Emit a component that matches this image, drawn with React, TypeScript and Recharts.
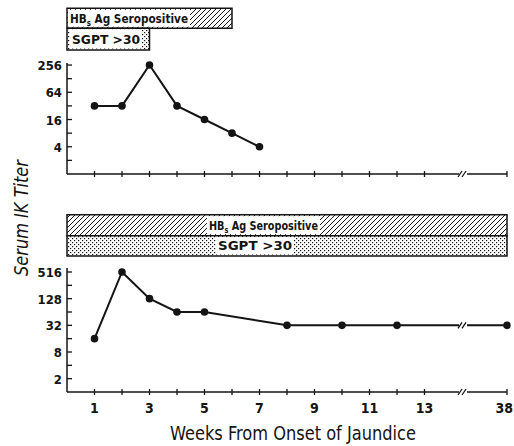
import React from 'react';
import { LineChart, Line, XAxis, YAxis, ReferenceArea, ReferenceDot } from 'recharts';

// ─── Data ─────────────────────────────────────────────────────────────────────
const TOP_WEEKS = [1, 2, 3, 4, 5, 6, 7];
const TOP_TITER = [32, 32, 256, 32, 16, 8, 4];
const BOTTOM_WEEKS = [1, 2, 3, 4, 5, 8, 10, 12, 38];
const BOTTOM_TITER = [16, 512, 128, 64, 64, 32, 32, 32, 32];

const WEEK_TICKS = [1, 2, 3, 4, 5, 6, 7, 8, 9, 10, 11, 12, 13, 38];
const WEEK_LABELS = ['1', '', '3', '', '5', '', '7', '', '9', '', '11', '', '13', '38'];

const TOP_Y_TICKS = [2, 4, 8, 16, 32, 64, 128, 256];
const TOP_Y_LABELS = ['', '4', '', '16', '', '64', '', '256'];
const BOTTOM_Y_TICKS = [2, 4, 8, 16, 32, 64, 128, 256, 512];
const BOTTOM_Y_LABELS = ['2', '', '8', '', '32', '', '128', '', '516'];

// annotation bars: [startWeek, endWeek]
const TOP_HBS = [0, 6];
const TOP_SGPT = [0, 3];
const BOTTOM_HBS = [0, 38];
const BOTTOM_SGPT = [0, 38];

// broken axis: everything after week 13 is squeezed onto one slot
const LAST_WEEK = 13;
const axisPos = (w: number) => (w > LAST_WEEK ? 16 : w);
const BREAK_AT = 14.4;

const FONT = "'DejaVu Sans Condensed', 'DejaVu Sans', sans-serif";
const INK = '#141414';

const topData = TOP_WEEKS.map((w, i) => ({ pos: axisPos(w), titer: TOP_TITER[i] }));
const bottomData = BOTTOM_WEEKS.map((w, i) => ({ pos: axisPos(w), titer: BOTTOM_TITER[i] }));
const xTicks = WEEK_TICKS.map(axisPos);

// ─── Ticks ────────────────────────────────────────────────────────────────────
const XTick = ({ x, y, payload, showLabel }: any) => {
  const idx = xTicks.indexOf(payload.value);
  const label = showLabel ? WEEK_LABELS[idx] : '';
  const last = idx === xTicks.length - 1;
  return (
    <g>
      <line x1={x} x2={x} y1={y - 3} y2={y + 3} stroke={INK} strokeWidth={1.3} />
      {label && (
        <text x={last ? x + 6 : x} y={y + 21} textAnchor={last ? 'end' : 'middle'} fontFamily={FONT}
          fontStretch="condensed" fontWeight="bold" fontSize={14} fill={INK}>
          {label}
        </text>
      )}
    </g>
  );
};

const YTick = ({ x, y, payload, ticks, labels }: any) => {
  const label = labels[ticks.indexOf(payload.value)];
  const axisX = x + 4;
  return (
    <g>
      <line x1={axisX} x2={axisX + 5} y1={y} y2={y} stroke={INK} strokeWidth={1.3} />
      {label && (
        <text x={x - 1} y={y + 5} textAnchor="end" fontFamily={FONT} fontStretch="condensed"
          fontWeight="bold" fontSize={13} fill={INK}>
          {label}
        </text>
      )}
    </g>
  );
};

const BreakMark = ({ cx, cy }: any) => (
  <g>
    <rect x={cx - 4} y={cy - 3} width={8} height={6} fill="#fff" />
    <line x1={cx - 5} y1={cy + 3} x2={cx - 1} y2={cy - 3} stroke={INK} strokeWidth={1.3} />
    <line x1={cx - 1} y1={cy + 3} x2={cx + 3} y2={cy - 3} stroke={INK} strokeWidth={1.3} />
  </g>
);

const BandLabel = ({ viewBox, dx, width, sub }: any) => {
  const { x, y, height } = viewBox;
  const tx = x + dx;
  const ty = y + height / 2 + 4.5;
  return (
    <g>
      <rect x={tx - 2} y={y + 1.5} width={width + 4} height={height - 3} fill="#fff" />
      <text x={tx} y={ty} fontFamily={FONT} fontWeight="bold" fontSize={12} fill={INK}
        textLength={width} lengthAdjust="spacingAndGlyphs">
        {sub ? (
          <>
            HB<tspan baselineShift="-3" fontSize={8}>s</tspan> Ag Seropositive
          </>
        ) : (
          'SGPT >30'
        )}
      </text>
    </g>
  );
};

const Patterns = () => (
  <svg width={0} height={0} style={{ position: 'absolute' }}>
    <defs>
      <pattern id="hatch" width={5} height={5} patternUnits="userSpaceOnUse">
        <path d="M0,5 L5,0 M-1,1 L1,-1 M4,6 L6,4" stroke={INK} strokeWidth={1} />
      </pattern>
      <pattern id="stipple" width={4} height={4} patternUnits="userSpaceOnUse">
        <rect width={4} height={4} fill="#fff" />
        <rect x={0} y={0} width={1.2} height={1.2} fill={INK} />
        <rect x={2} y={2} width={1.2} height={1.2} fill={INK} />
      </pattern>
    </defs>
  </svg>
);

// ─── Panels ───────────────────────────────────────────────────────────────────
function Panel({ data, height, top, bottomAxisH, yDomain, yTicks, yLabels, hbs, sgpt, bands, labels, showX, lineBreakAt }: any) {
  return (
    <LineChart width={514} height={height} data={data} margin={{ top, right: 7, bottom: 0, left: 27 }}>
      <XAxis
        dataKey="pos" type="number" domain={[0, 16]} ticks={xTicks} interval={0} allowDataOverflow
        height={bottomAxisH} tickLine={false} tickSize={0} tickMargin={0}
        axisLine={{ stroke: INK, strokeWidth: 1.5 }}
        tick={(p: any) => <XTick {...p} showLabel={showX} />}
      />
      <YAxis
        dataKey="titer" scale="log" domain={yDomain} ticks={yTicks} interval={0} allowDataOverflow width={40}
        tickLine={false} tickSize={0} tickMargin={4}
        axisLine={{ stroke: INK, strokeWidth: 1.5 }}
        tick={(p: any) => <YTick {...p} ticks={yTicks} labels={yLabels} />}
      />
      <ReferenceArea x1={axisPos(hbs[0])} x2={axisPos(hbs[1])} y1={bands[1]} y2={bands[2]} ifOverflow="visible"
        fill="url(#hatch)" fillOpacity={1} stroke={INK} strokeWidth={1.5}
        label={(p: any) => <BandLabel {...p} dx={labels[0]} width={labels[1]} sub />} />
      <ReferenceArea x1={axisPos(sgpt[0])} x2={axisPos(sgpt[1])} y1={bands[0]} y2={bands[1]} ifOverflow="visible"
        fill="url(#stipple)" fillOpacity={1} stroke={INK} strokeWidth={1.5}
        label={(p: any) => <BandLabel {...p} dx={labels[2]} width={labels[3]} />} />
      <Line dataKey="titer" stroke={INK} strokeWidth={2} isAnimationActive={false}
        dot={{ r: 3.8, fill: INK, stroke: INK, strokeWidth: 0, clipDot: false }} />
      <ReferenceDot x={BREAK_AT} y={yDomain[0]} ifOverflow="visible" shape={BreakMark} />
      {lineBreakAt && <ReferenceDot x={BREAK_AT} y={lineBreakAt} ifOverflow="visible" shape={BreakMark} />}
    </LineChart>
  );
}

export default function App() {
  return (
    <div style={{ position: 'absolute', left: 0, top: 0, width: 514, height: 446, background: '#fff' }}>
      <Patterns />
      <svg width={514} height={446} style={{ position: 'absolute', left: 0, top: 0 }}>
        <text transform="translate(28,218) rotate(-90)" textAnchor="middle" fontFamily={FONT}
          fontStretch="condensed" fontStyle="italic" fontSize={20} fill={INK}
          textLength={116} lengthAdjust="spacingAndGlyphs">
          Serum IK Titer
        </text>
        <text x={293} y={440} textAnchor="middle" fontFamily={FONT} fontStretch="condensed"
          fontSize={19} fill={INK} textLength={246} lengthAdjust="spacingAndGlyphs">
          Weeks From Onset of Jaundice
        </text>
      </svg>
      <div style={{ position: 'absolute', left: 0, top: 0 }}>
        <Panel
          data={topData} height={190} top={63} bottomAxisH={16}
          yDomain={[1, 284]} yTicks={TOP_Y_TICKS} yLabels={TOP_Y_LABELS}
          hbs={TOP_HBS} sgpt={TOP_SGPT}
          bands={[549, 1663, 4600]} labels={[3, 118, 5, 68]}
          showX={false}
        />
      </div>
      <div style={{ position: 'absolute', left: 0, top: 190 }}>
        <Panel
          data={bottomData} height={256} top={78} bottomAxisH={54}
          yDomain={[1, 630]} yTicks={BOTTOM_Y_TICKS} yLabels={BOTTOM_Y_LABELS}
          hbs={BOTTOM_HBS} sgpt={BOTTOM_SGPT}
          bands={[1176, 3370, 10085]} labels={[142, 109, 151, 74]}
          showX lineBreakAt={32}
        />
      </div>
    </div>
  );
}
